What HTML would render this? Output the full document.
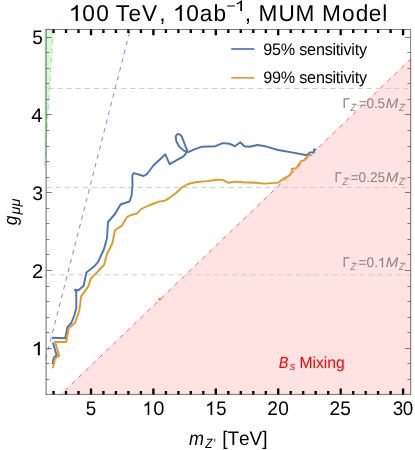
<!DOCTYPE html>
<html><head><meta charset="utf-8"><title>plot</title>
<style>
html,body{margin:0;padding:0;background:#fff;}
body{width:415px;height:450px;overflow:hidden;font-family:"Liberation Sans",sans-serif;}
svg{display:block;will-change:transform;opacity:0.999;}
svg text{font-family:"Liberation Sans",sans-serif;font-kerning:none;text-rendering:geometricPrecision;}
</style></head><body>
<svg width="415" height="450" viewBox="0 0 415 450">
<rect width="415" height="450" fill="#fff"/>
<polygon points="59.1,395.6 59.4,394.9 410.5,58.4 411.9,58.0 411.9,395.6" fill="#ffe2e2"/>
<polyline points="411.0,58.9 59.9,395.4" fill="none" stroke="#ff5566" stroke-width="0.9" stroke-dasharray="4.2 5.3"/>
<polygon points="44.1,28.5 53.4,28.5 44.5,168 44.1,168" fill="#dbf6d7"/>
<line x1="53.2" y1="29.5" x2="44.6" y2="167" stroke="#7aea7a" stroke-width="0.8" stroke-dasharray="5.2 4.2"/>
<line x1="44.4" y1="88.5" x2="410.6" y2="88.5" stroke="#c9c9c9" stroke-width="0.9" stroke-dasharray="5.3 3.8" stroke-dashoffset="5.3"/>
<line x1="44.4" y1="187.45" x2="410.6" y2="187.45" stroke="#c9c9c9" stroke-width="0.9" stroke-dasharray="5.3 3.8" stroke-dashoffset="7.1"/>
<line x1="44.4" y1="274.75" x2="410.6" y2="274.75" stroke="#c9c9c9" stroke-width="0.9" stroke-dasharray="5.3 3.8" stroke-dashoffset="3.4"/>
<line x1="130.3" y1="29.5" x2="44.6" y2="363.5" stroke="#7c7cf5" stroke-width="0.95" stroke-dasharray="4.5 4.5" stroke-dashoffset="6.2"/>
<path d="M46.1,29.1V394.8" stroke="#6e6e6e" stroke-width="1.05" fill="none"/>
<path d="M45.7,29.5H411.0M45.7,394.4H411.0M410.6,29.5V394.4" stroke="#666" stroke-width="0.85" fill="none"/>
<path d="M46.1,379.5h3.2M410.6,379.5h-3.2M46.1,363.5h3.2M410.6,363.5h-3.2M46.1,348.5h5.7M410.6,348.5h-5.7M46.1,332.5h3.2M410.6,332.5h-3.2M46.1,317.5h3.2M410.6,317.5h-3.2M46.1,301.5h3.2M410.6,301.5h-3.2M46.1,286.5h3.2M410.6,286.5h-3.2M46.1,270.5h5.7M410.6,270.5h-5.7M46.1,254.5h3.2M410.6,254.5h-3.2M46.1,239.5h3.2M410.6,239.5h-3.2M46.1,223.5h3.2M410.6,223.5h-3.2M46.1,208.5h3.2M410.6,208.5h-3.2M46.1,192.5h5.7M410.6,192.5h-5.7M46.1,177.5h3.2M410.6,177.5h-3.2M46.1,161.5h3.2M410.6,161.5h-3.2M46.1,146.5h3.2M410.6,146.5h-3.2M46.1,130.5h3.2M410.6,130.5h-3.2M46.1,114.5h5.7M410.6,114.5h-5.7M46.1,99.5h3.2M410.6,99.5h-3.2M46.1,83.5h3.2M410.6,83.5h-3.2M46.1,68.5h3.2M410.6,68.5h-3.2M46.1,52.5h3.2M410.6,52.5h-3.2M46.1,37.5h5.7M410.6,37.5h-5.7" stroke="#5a5a5a" stroke-width="0.8" fill="none"/>
<path d="M53.5,394.4v-3.5M53.5,29.5v3.5M66.0,394.4v-3.5M66.0,29.5v3.5M78.5,394.4v-3.5M78.5,29.5v3.5M91.0,394.4v-5.8M91.0,29.5v5.8M103.4,394.4v-3.5M103.4,29.5v3.5M115.9,394.4v-3.5M115.9,29.5v3.5M128.4,394.4v-3.5M128.4,29.5v3.5M140.9,394.4v-3.5M140.9,29.5v3.5M153.4,394.4v-5.8M153.4,29.5v5.8M165.9,394.4v-3.5M165.9,29.5v3.5M178.4,394.4v-3.5M178.4,29.5v3.5M190.8,394.4v-3.5M190.8,29.5v3.5M203.3,394.4v-3.5M203.3,29.5v3.5M215.8,394.4v-5.8M215.8,29.5v5.8M228.3,394.4v-3.5M228.3,29.5v3.5M240.8,394.4v-3.5M240.8,29.5v3.5M253.3,394.4v-3.5M253.3,29.5v3.5M265.8,394.4v-3.5M265.8,29.5v3.5M278.2,394.4v-5.8M278.2,29.5v5.8M290.7,394.4v-3.5M290.7,29.5v3.5M303.2,394.4v-3.5M303.2,29.5v3.5M315.7,394.4v-3.5M315.7,29.5v3.5M328.2,394.4v-3.5M328.2,29.5v3.5M340.7,394.4v-5.8M340.7,29.5v5.8M353.2,394.4v-3.5M353.2,29.5v3.5M365.7,394.4v-3.5M365.7,29.5v3.5M378.1,394.4v-3.5M378.1,29.5v3.5M390.6,394.4v-3.5M390.6,29.5v3.5M403.1,394.4v-5.8M403.1,29.5v5.8" stroke="#000" stroke-width="2.35" fill="none"/>
<g fill="none" stroke-linejoin="round" stroke-linecap="butt" stroke-width="1.9">
<polyline points="52.4,364.2 53.9,357.5 56.6,355.3 52.9,342.4" stroke="#4c74b2"/>
<polyline points="52.0,337.8 65.2,338.2 67.4,327.1 71.3,323.0 74.5,315.0 76.3,307.9 76.3,292.0 74.9,289.8 78.4,290.2 83.7,285.7 86.4,272.4 94.4,266.2 98.0,262.0 104.0,249.0 107.0,238.0 108.0,222.0 115.0,214.0 120.5,204.5 129.5,201.5 131.5,196.0 132.5,185.0 132.3,175.3 133.9,173.1 143.6,176.0 146.9,174.2 153.4,165.5 165.4,154.3 169.6,164.2 183.5,156.3 185.9,153.3 187.1,150.3 181.7,136.4 179.9,134.4 177.5,134.0 175.7,136.4 176.3,141.3 179.3,146.7 184.1,150.9 188.3,152.1 194.9,149.1 202.2,146.7 215.5,146.2 222.7,143.1 229.9,143.8 234.8,146.2 240.3,142.3 244.4,146.2 249.2,146.7 257.7,145.0 264.9,146.2 270.0,147.6 278.0,150.0 291.7,152.4 306.9,155.3 309.8,152.4 314.0,152.4 314.0,149.5 316.3,149.5" stroke="#4c74b2"/>
<polyline points="52.9,368.2 55.1,358.4 59.1,355.7 55.1,342.0 66.2,342.0 67.0,337.5 68.6,328.3 74.9,323.0 79.3,310.6 81.1,296.4 88.2,286.6 90.8,278.6 97.0,272.4 100.0,269.0 104.0,265.0 107.0,254.0 112.4,243.0 115.0,230.0 122.0,225.6 127.0,217.0 131.0,215.0 137.0,213.6 141.0,209.0 150.0,205.0 159.0,201.6 165.0,200.6 170.0,197.6 176.0,193.0 182.0,187.5 188.0,184.0 195.0,182.3 207.0,181.1 216.7,179.7 222.7,179.9 228.7,182.8 234.8,181.6 243.2,182.3 255.2,182.8 264.9,183.6 278.7,182.6 283.7,178.4 289.5,175.5 291.7,171.9 291.7,169.0 296.0,168.3 301.1,161.1 304.0,160.4 307.6,156.0 310.5,154.6 311.2,156.0" stroke="#e19a23"/>
</g>
<polygon points="158.2,298.3 161.6,298.6 159.6,300.7" fill="#e19a23" stroke="#e19a23" stroke-width="0.8" stroke-linejoin="round"/>
<line x1="231.2" y1="49.0" x2="254.2" y2="49.0" stroke="#4c74b2" stroke-width="1.7"/>
<line x1="231.2" y1="77.8" x2="254.2" y2="77.8" stroke="#e19a23" stroke-width="1.7"/>
<text transform="translate(226.48,11.0) scale(1.021,1)" font-size="15.0" fill="#000">−</text>
<text transform="translate(263.32,54.9) scale(0.975,1)" font-size="16.6" letter-spacing="-0.24" fill="#000">95% sensitivity</text>
<text transform="translate(263.32,83.4) scale(0.975,1)" font-size="16.6" letter-spacing="-0.24" fill="#000">99% sensitivity</text>
<text transform="translate(153.28,415.0) scale(1.024,1)" font-size="19.6" fill="#000">0</text>
<text transform="translate(216.35,415.0) scale(0.939,1)" font-size="19.6" fill="#000">5</text>
<text transform="translate(85.63,415.0) scale(0.960,1)" font-size="19.6" fill="#000">5</text>
<text transform="translate(267.17,415.0) scale(0.975,1)" font-size="19.6" letter-spacing="0.41" fill="#000">20</text>
<text transform="translate(329.57,415.0) scale(0.975,1)" font-size="19.6" letter-spacing="0.10" fill="#000">25</text>
<text transform="translate(392.83,415.0) scale(0.962,1)" font-size="19.6" letter-spacing="-0.60" fill="#000">30</text>
<text transform="translate(32.22,44.4) scale(0.971,1)" font-size="19.6" fill="#000">5</text>
<text transform="translate(31.33,122.2) scale(1.033,1)" font-size="19.6" fill="#000">4</text>
<text transform="translate(32.20,200.1) scale(0.995,1)" font-size="19.6" fill="#000">3</text>
<text transform="translate(31.91,277.8) scale(1.037,1)" font-size="19.6" fill="#000">2</text>
<text transform="translate(189.00,444.6) scale(0.920,1)" font-size="19.6" font-style="italic" fill="#000">m</text>
<text transform="translate(205.37,447.7) scale(0.880,1)" font-size="13.4" font-style="italic" fill="#000">Z</text>
<text transform="translate(213.75,447.7) scale(0.800,1)" font-size="13.4" fill="#000">'</text>
<text transform="translate(222.31,444.7) scale(0.975,1)" font-size="19.6" letter-spacing="-0.10" fill="#000">[TeV]</text>
<text transform="translate(342.49,107.5) scale(0.944,1)" font-size="14.0" fill="#858585">Γ</text>
<text transform="translate(350.57,110.6) scale(0.873,1)" font-size="10.4" font-style="italic" fill="#858585">Z</text>
<text transform="translate(356.76,110.5) scale(0.571,1)" font-size="9.8" fill="#858585">'</text>
<text transform="translate(358.64,107.5) scale(0.975,1)" font-size="14.0" letter-spacing="-0.14" fill="#858585">=0.5</text>
<text transform="translate(385.71,107.5) scale(1.079,1)" font-size="14.0" font-style="italic" fill="#858585">M</text>
<text transform="translate(399.06,110.6) scale(0.858,1)" font-size="10.4" font-style="italic" fill="#858585">Z</text>
<text transform="translate(405.06,110.5) scale(0.571,1)" font-size="9.8" fill="#858585">'</text>
<text transform="translate(334.49,181.5) scale(0.944,1)" font-size="14.0" fill="#858585">Γ</text>
<text transform="translate(342.57,184.6) scale(0.873,1)" font-size="10.4" font-style="italic" fill="#858585">Z</text>
<text transform="translate(348.76,184.5) scale(0.571,1)" font-size="9.8" fill="#858585">'</text>
<text transform="translate(350.64,181.5) scale(0.975,1)" font-size="14.0" letter-spacing="-0.02" fill="#858585">=0.25</text>
<text transform="translate(385.71,181.5) scale(1.079,1)" font-size="14.0" font-style="italic" fill="#858585">M</text>
<text transform="translate(399.06,184.6) scale(0.858,1)" font-size="10.4" font-style="italic" fill="#858585">Z</text>
<text transform="translate(405.06,184.5) scale(0.571,1)" font-size="9.8" fill="#858585">'</text>
<text transform="translate(342.49,267.2) scale(0.944,1)" font-size="14.0" fill="#858585">Γ</text>
<text transform="translate(350.57,270.3) scale(0.873,1)" font-size="10.4" font-style="italic" fill="#858585">Z</text>
<text transform="translate(356.76,270.2) scale(0.571,1)" font-size="9.8" fill="#858585">'</text>
<text transform="translate(358.54,267.2) scale(0.975,1)" font-size="14.0" letter-spacing="0.03" fill="#858585">=0.</text>
<text transform="translate(385.71,267.2) scale(1.079,1)" font-size="14.0" font-style="italic" fill="#858585">M</text>
<text transform="translate(399.06,270.3) scale(0.858,1)" font-size="10.4" font-style="italic" fill="#858585">Z</text>
<text transform="translate(405.06,270.2) scale(0.571,1)" font-size="9.8" fill="#858585">'</text>
<text transform="translate(278.80,367.7) scale(0.904,1)" font-size="16.1" font-style="italic" fill="#f00">B</text>
<text transform="translate(289.65,370.4) scale(0.986,1)" font-size="11.3" font-style="italic" fill="#f00">s</text>
<text transform="translate(299.51,367.7) scale(0.975,1)" font-size="16.1" letter-spacing="-0.03" fill="#f00">Mixing</text>
<text transform="translate(82.24,21.0) scale(0.985,1)" font-size="23.0" fill="#000">0</text>
<text transform="translate(96.24,21.0) scale(0.985,1)" font-size="23.0" fill="#000">0</text>
<text transform="translate(115.86,21.0) scale(0.985,1)" font-size="23.0" fill="#000">T</text>
<text transform="translate(128.46,21.0) scale(0.985,1)" font-size="23.0" fill="#000">e</text>
<text transform="translate(142.03,21.0) scale(0.985,1)" font-size="23.0" fill="#000">V</text>
<text transform="translate(159.16,21.0) scale(0.985,1)" font-size="23.0" fill="#000">,</text>
<text transform="translate(186.24,21.0) scale(0.985,1)" font-size="23.0" fill="#000">0</text>
<text transform="translate(199.66,21.0) scale(0.985,1)" font-size="23.0" fill="#000">a</text>
<text transform="translate(213.57,21.0) scale(0.985,1)" font-size="23.0" fill="#000">b</text>
<text transform="translate(244.76,21.0) scale(0.985,1)" font-size="23.0" fill="#000">,</text>
<text transform="translate(258.40,21.0) scale(0.985,1)" font-size="23.0" fill="#000">M</text>
<text transform="translate(278.43,21.0) scale(0.985,1)" font-size="23.0" fill="#000">U</text>
<text transform="translate(295.60,21.0) scale(0.985,1)" font-size="23.0" fill="#000">M</text>
<text transform="translate(322.10,21.0) scale(0.985,1)" font-size="23.0" fill="#000">M</text>
<text transform="translate(342.06,21.0) scale(0.985,1)" font-size="23.0" fill="#000">o</text>
<text transform="translate(355.66,21.0) scale(0.985,1)" font-size="23.0" fill="#000">d</text>
<text transform="translate(368.87,21.0) scale(0.985,1)" font-size="23.0" fill="#000">e</text>
<text transform="translate(382.17,21.0) scale(0.985,1)" font-size="23.0" fill="#000">l</text>
<path transform="translate(71.25,21.0) scale(0.01222,-0.01084) translate(-223,0)" d="M763 0H583V1147Q518 1085 412.5 1023Q307 961 223 930V1104Q374 1175 487 1276Q600 1377 647 1472H763Z" fill="#000"/>
<path transform="translate(175.45,21.0) scale(0.01185,-0.01084) translate(-223,0)" d="M763 0H583V1147Q518 1085 412.5 1023Q307 961 223 930V1104Q374 1175 487 1276Q600 1377 647 1472H763Z" fill="#000"/>
<path transform="translate(236.75,10.9) scale(0.00981,-0.00707) translate(-223,0)" d="M763 0H583V1147Q518 1085 412.5 1023Q307 961 223 930V1104Q374 1175 487 1276Q600 1377 647 1472H763Z" fill="#000"/>
<path transform="translate(144.45,415.0) scale(0.00889,-0.00924) translate(-223,0)" d="M763 0H583V1147Q518 1085 412.5 1023Q307 961 223 930V1104Q374 1175 487 1276Q600 1377 647 1472H763Z" fill="#000"/>
<path transform="translate(207.15,415.0) scale(0.00944,-0.00924) translate(-223,0)" d="M763 0H583V1147Q518 1085 412.5 1023Q307 961 223 930V1104Q374 1175 487 1276Q600 1377 647 1472H763Z" fill="#000"/>
<path transform="translate(33.75,355.3) scale(0.01130,-0.00924) translate(-223,0)" d="M763 0H583V1147Q518 1085 412.5 1023Q307 961 223 930V1104Q374 1175 487 1276Q600 1377 647 1472H763Z" fill="#000"/>
<path transform="translate(379.15,267.2) scale(0.00741,-0.00660) translate(-223,0)" d="M763 0H583V1147Q518 1085 412.5 1023Q307 961 223 930V1104Q374 1175 487 1276Q600 1377 647 1472H763Z" fill="#858585"/>
<text transform="translate(17.30,225.25) rotate(-90) scale(0.884,0.957)" font-size="19.6" font-style="italic" fill="#000">g</text>
<text transform="translate(20.45,214.47) rotate(-90) scale(1.123,1.120)" font-size="13" font-style="italic" fill="#000">μμ</text>
</svg>
</body></html>
